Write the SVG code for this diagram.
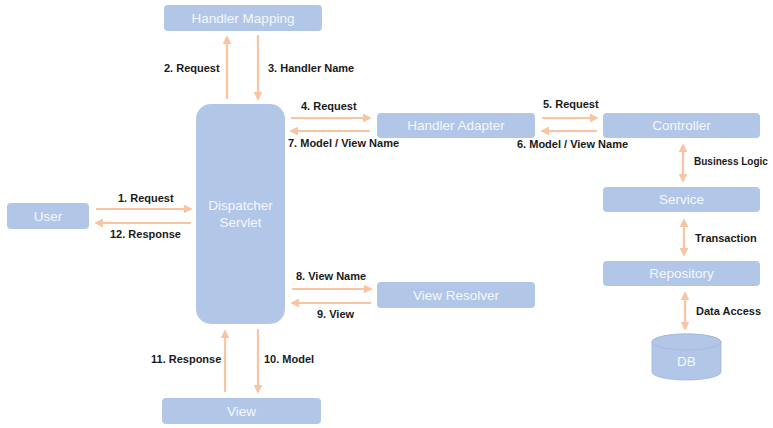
<svg xmlns="http://www.w3.org/2000/svg" width="773" height="428" viewBox="0 0 773 428">
<style>
.n{fill:#b2c7e8;}
.t{font-family:"Liberation Sans",Arial,sans-serif;font-size:13.5px;fill:#f4f7fc;text-anchor:middle;}
.l{font-family:"Liberation Sans",Arial,sans-serif;font-size:11px;font-weight:bold;fill:#1a1a1a;}
.c{stroke:#f9c4a2;stroke-width:2.2;fill:none;}
</style>
<defs>
<marker id="ah" viewBox="0 0 10 10" refX="8" refY="5" markerWidth="4" markerHeight="4" orient="auto-start-reverse">
<path d="M0,0 L10,5 L0,10 z" fill="#f9c4a2"/>
</marker>
</defs>
<rect width="773" height="428" fill="#ffffff"/>
<g id="connectors">
<line class="c" x1="227" y1="99" x2="227" y2="37" marker-end="url(#ah)"/>
<line class="c" x1="258" y1="35" x2="258" y2="99" marker-end="url(#ah)"/>
<line class="c" x1="291" y1="118" x2="370" y2="118" marker-end="url(#ah)"/>
<line class="c" x1="370" y1="131" x2="291" y2="131" marker-end="url(#ah)"/>
<line class="c" x1="542" y1="118" x2="597" y2="118" marker-end="url(#ah)"/>
<line class="c" x1="597" y1="131" x2="542" y2="131" marker-end="url(#ah)"/>
<line class="c" x1="683" y1="145" x2="683" y2="181" marker-start="url(#ah)" marker-end="url(#ah)"/>
<line class="c" x1="684" y1="220" x2="684" y2="255" marker-start="url(#ah)" marker-end="url(#ah)"/>
<line class="c" x1="685" y1="293" x2="685" y2="329" marker-start="url(#ah)" marker-end="url(#ah)"/>
<line class="c" x1="96" y1="209" x2="191" y2="209" marker-end="url(#ah)"/>
<line class="c" x1="191" y1="223" x2="96" y2="223" marker-end="url(#ah)"/>
<line class="c" x1="292" y1="289" x2="371" y2="289" marker-end="url(#ah)"/>
<line class="c" x1="371" y1="303" x2="292" y2="303" marker-end="url(#ah)"/>
<line class="c" x1="225" y1="392" x2="225" y2="331" marker-end="url(#ah)"/>
<line class="c" x1="258" y1="329" x2="258" y2="392" marker-end="url(#ah)"/>
<text class="l" x="164" y="72">2. Request</text>
<text class="l" x="268" y="72">3. Handler Name</text>
<text class="l" x="301" y="110">4. Request</text>
<text class="l" x="288" y="147">7. Model / View Name</text>
<text class="l" x="543" y="108">5. Request</text>
<text class="l" x="517" y="148">6. Model / View Name</text>
<text class="l" x="694" y="165" style="font-size:10px">Business Logic</text>
<text class="l" x="695" y="242">Transaction</text>
<text class="l" x="696" y="315">Data Access</text>
<text class="l" x="118" y="202">1. Request</text>
<text class="l" x="110" y="238">12. Response</text>
<text class="l" x="296" y="280">8. View Name</text>
<text class="l" x="317" y="318">9. View</text>
<text class="l" x="151" y="363">11. Response</text>
<text class="l" x="264" y="363">10. Model</text>
</g>
<g id="handler-mapping"><rect class="n" x="164" y="5" width="158" height="26" rx="4"/><text class="t" x="243" y="23">Handler Mapping</text></g>
<g id="dispatcher-servlet"><rect class="n" x="196" y="104" width="89" height="220" rx="15"/><text class="t" x="240.5" y="210">Dispatcher</text><text class="t" x="240.5" y="227">Servlet</text></g>
<g id="handler-adapter"><rect class="n" x="377" y="113" width="158" height="25" rx="4"/><text class="t" x="456" y="130">Handler Adapter</text></g>
<g id="controller"><rect class="n" x="603" y="113" width="157" height="25" rx="4"/><text class="t" x="681.5" y="130">Controller</text></g>
<g id="service"><rect class="n" x="603" y="187" width="157" height="25" rx="4"/><text class="t" x="681.5" y="204">Service</text></g>
<g id="repository"><rect class="n" x="603" y="261" width="157" height="25" rx="4"/><text class="t" x="681.5" y="278">Repository</text></g>
<g id="db"><path class="n" d="M652,342 A34.5,8 0 0 1 721,342 L721,372 A34.5,8 0 0 1 652,372 Z" stroke="#9fb6dc" stroke-width="0.8"/><ellipse cx="686.5" cy="342" rx="34.5" ry="8" fill="#b2c7e8" stroke="#9fb6dc" stroke-width="0.8"/><text class="t" x="686.5" y="366">DB</text></g>
<g id="user"><rect class="n" x="7" y="203" width="82" height="26" rx="4"/><text class="t" x="48" y="221">User</text></g>
<g id="view-resolver"><rect class="n" x="377" y="282" width="158" height="26" rx="4"/><text class="t" x="456" y="300">View Resolver</text></g>
<g id="view"><rect class="n" x="162" y="398" width="159" height="26" rx="4"/><text class="t" x="241.5" y="416">View</text></g>
</svg>
